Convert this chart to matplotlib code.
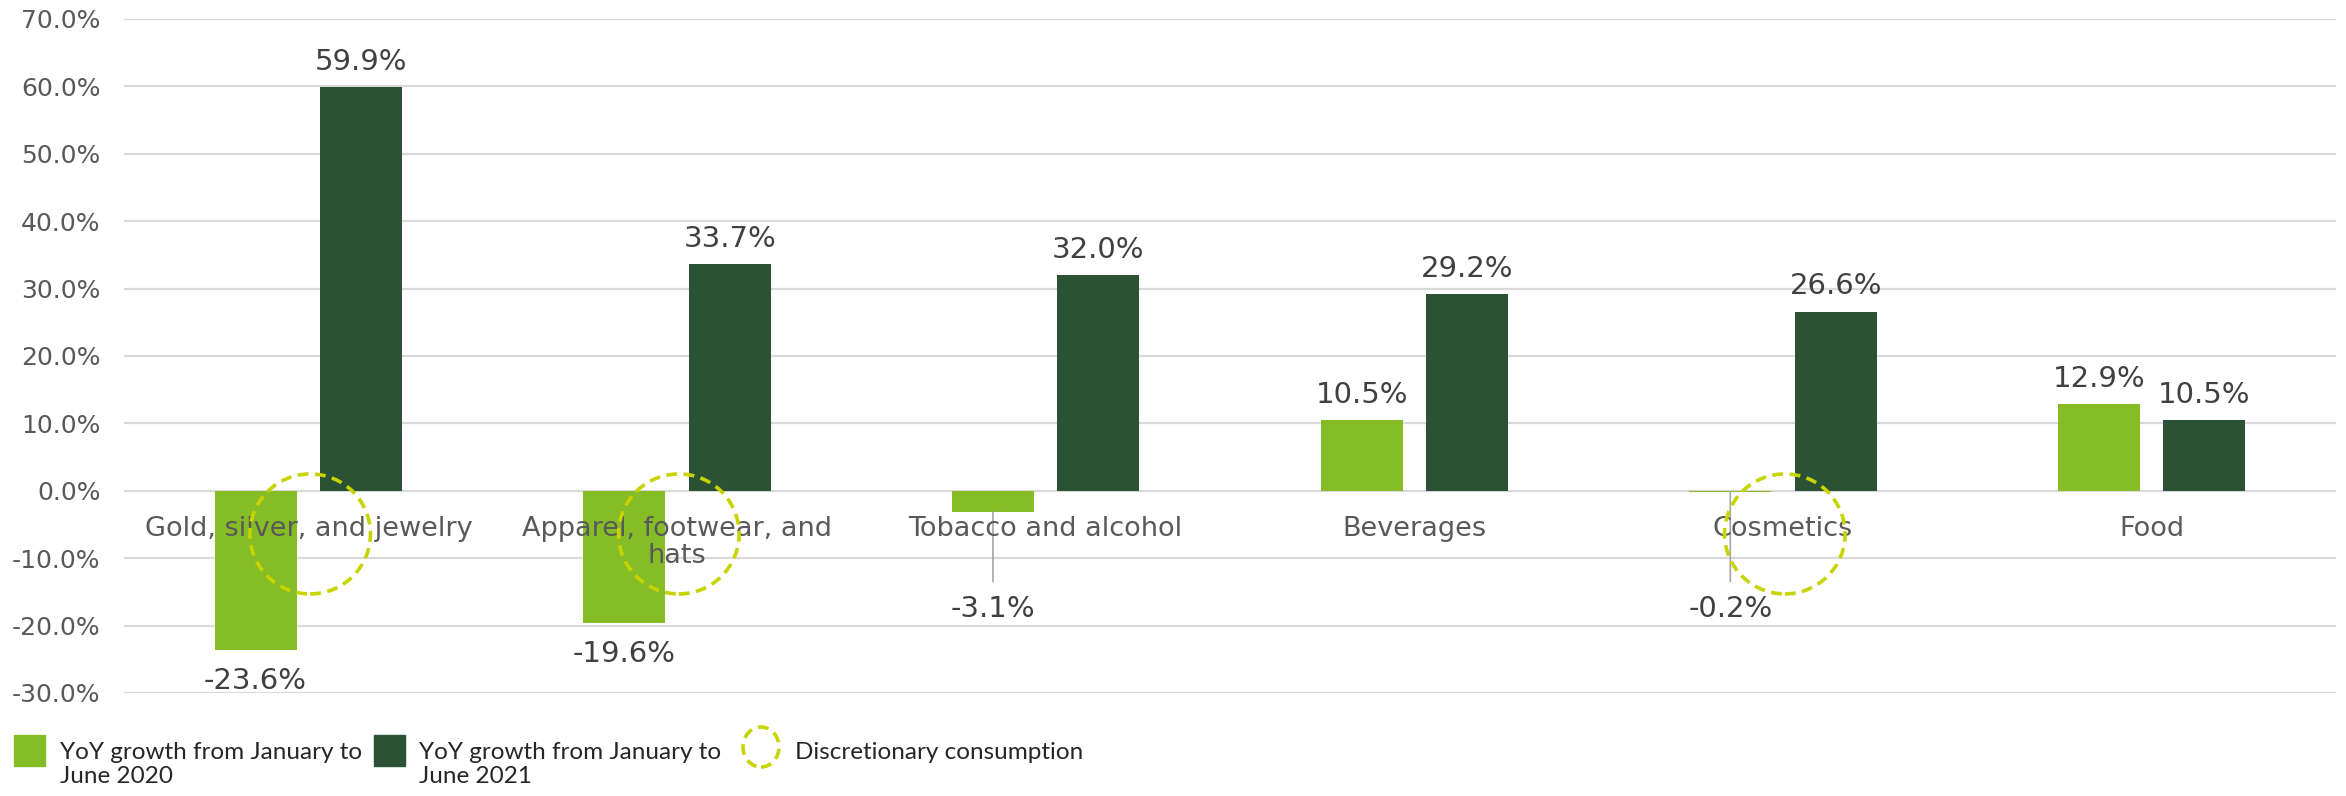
import matplotlib
matplotlib.use("Agg")
import matplotlib.pyplot as plt
from matplotlib.patches import Ellipse, Rectangle
import numpy as np

categories = ["Gold, silver, and jewelry", "Apparel, footwear, and\nhats",
              "Tobacco and alcohol", "Beverages", "Cosmetics", "Food"]
growth_2020 = [-23.6, -19.6, -3.1, 10.5, -0.2, 12.9]
growth_2021 = [59.9, 33.7, 32.0, 29.2, 26.6, 10.5]
discretionary = [0, 1, 4]  # indices of circled categories
yticks = [-30, -20, -10, 0, 10, 20, 30, 40, 50, 60, 70]
legend_labels = ["YoY growth from January to\nJune 2020",
                 "YoY growth from January to\nJune 2021",
                 "Discretionary consumption"]

LIGHT = "#86BC25"
DARK = "#2B5234"
CIRCLE = "#C8D400"
GRID = "#D9D9D9"
TICK = "#595959"
LABEL = "#404040"

W, H = 2346, 796
fig = plt.figure(figsize=(W / 100, H / 100), dpi=100)
ax = fig.add_axes([124 / W, 1 - 693 / H, (2336 - 124) / W, (693 - 19) / H])

x = np.arange(len(categories))
bw = 0.222
off = 0.143
ax.bar(x - off, growth_2020, bw, color=LIGHT, zorder=2)
ax.bar(x + off, growth_2021, bw, color=DARK, zorder=2)

ax.set_xlim(-0.5, len(categories) - 0.5)
ax.set_ylim(-30, 70)
ax.set_yticks(yticks)
ax.set_yticklabels([f"{v:.1f}%" for v in yticks], fontsize=18, color=TICK)
ax.yaxis.grid(True, color=GRID, lw=1.6)
ax.set_axisbelow(True)
ax.xaxis.set_zorder(3)
for s in ax.spines.values():
    s.set_visible(False)
ax.spines["bottom"].set_position(("data", 0))
ax.tick_params(axis="y", length=0, pad=17)
ax.tick_params(axis="x", length=0, pad=18)
ax.set_xticks(x)
ax.set_xticklabels(categories, fontsize=19.5, color=TICK, linespacing=1.05)

# value labels
def label_bars(xs, vals):
    for xi, v in zip(xs, vals):
        txt = f"{v:.1f}%"
        if v >= 0:
            ax.annotate(txt, (xi, v), xytext=(0, 8), textcoords="offset points",
                        ha="center", va="bottom", fontsize=21, color=LABEL)
        elif v > -5:
            ax.annotate(txt, (xi, v), xytext=(xi, -17.6), textcoords="data",
                        ha="center", va="center", fontsize=21, color=LABEL,
                        arrowprops=dict(arrowstyle="-", color="#A6A6A6", lw=1.2,
                                        shrinkA=8, shrinkB=0))
        else:
            ax.annotate(txt, (xi, v), xytext=(0, -12), textcoords="offset points",
                        ha="center", va="top", fontsize=21, color=LABEL)

label_bars(x - off, growth_2020)
label_bars(x + off, growth_2021)

# discretionary circles
for i in discretionary:
    ax.add_patch(Ellipse((x[i] + 0.005, -6.4), 0.327, 17.8, fill=False,
                         ec=CIRCLE, lw=2.6, ls=(0, (3, 1.8)), zorder=4))

# legend (manual)
def fx(px):
    return px / W

def fy(py):
    return 1 - py / H

fig.add_artist(Rectangle((fx(14), fy(766)), fx(31), 31 / H, color=LIGHT,
                         transform=fig.transFigure))
fig.add_artist(Rectangle((fx(374), fy(766)), fx(31), 31 / H, color=DARK,
                         transform=fig.transFigure))
fig.add_artist(Ellipse((fx(761), fy(747)), fx(36), 40 / H, fill=False, ec=CIRCLE,
                       lw=2.6, ls=(0, (3, 1.8)), transform=fig.transFigure))
lfont = dict(fontsize=17.5, color="#262626", family="Lato", linespacing=1.2)
fig.text(fx(60), fy(742), legend_labels[0], ha="left", va="top", **lfont)
fig.text(fx(419), fy(742), legend_labels[1], ha="left", va="top", **lfont)
fig.text(fx(795), fy(742), legend_labels[2], ha="left", va="top", **lfont)

fig.savefig("out.png", dpi=100)
